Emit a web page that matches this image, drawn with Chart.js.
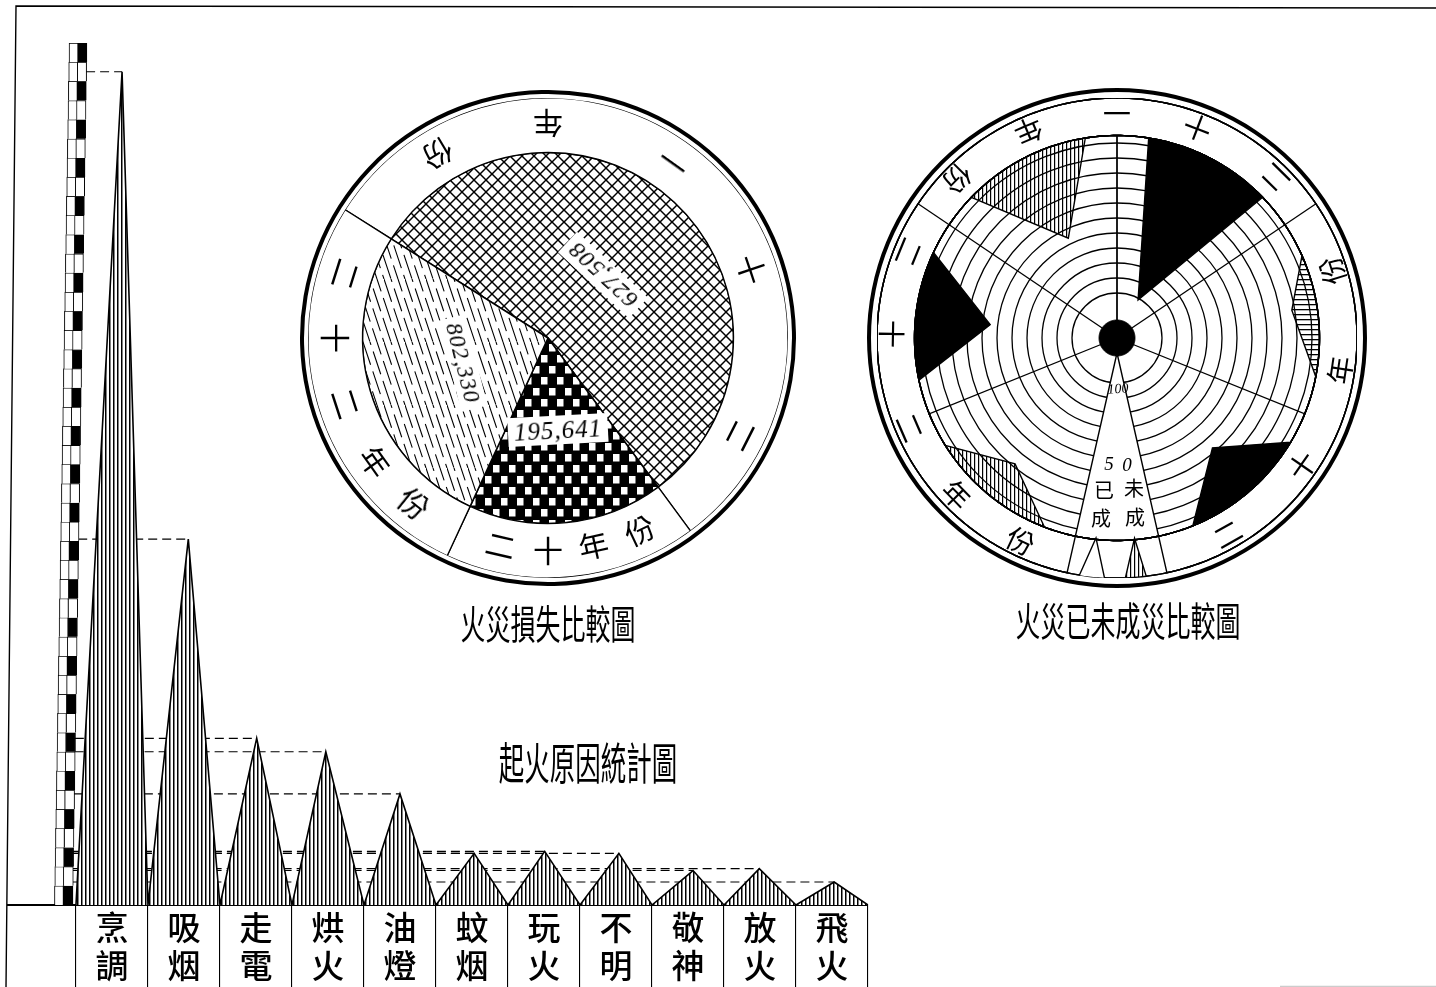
<!DOCTYPE html>
<html>
<head>
<meta charset="utf-8">
<title>起火原因統計圖</title>
<script src="https://cdn.jsdelivr.net/npm/chart.js@4/dist/chart.umd.min.js"></script>
<style>
    html, body { margin: 0; padding: 0; background: #fff; }
    #page { position: relative; width: 1436px; height: 987px; overflow: hidden; background: #fff; }
    #page canvas { position: absolute; }
    .txt { position: absolute; white-space: nowrap; color: #000; line-height: 1; font-family: "Noto Sans CJK TC", sans-serif; }
    .num { font-family: "Liberation Serif", serif; font-style: italic; background: #fff; padding: 2px 6px; letter-spacing: 1px; }
    .mark { font-family: "Liberation Serif", serif; font-style: italic; }
</style>
</head>
<body>
<div id="page">
    <canvas id="causes" width="1436" height="987" style="left:0;top:0"></canvas>
    <canvas id="loss" width="496" height="496" style="left:300px;top:90px"></canvas>
    <canvas id="ring" width="500" height="500" style="left:867px;top:88px"></canvas>
    <canvas id="rate" width="480" height="480" style="left:877px;top:98px"></canvas>
</div>
<script>
// 起火原因統計圖
var causeLabels = [['烹','調'],['吸','烟'],['走','電'],['烘','火'],['油','燈'],['蚊','烟'],['玩','火'],['不','明'],['敬','神'],['放','火'],['飛','火']];
var causeValues = [435, 191, 87, 80, 58, 27, 28, 27, 18, 19, 12];
var peakOffsets = [0.14, 0.06, 0.01, -0.03, 0, 0.03, 0.01, 0.04, 0.07, -0.01, 0.03];
var rulerTicks  = [0,10,20,30,40,50,60,70,80,90,100,110,120,130,140,150,160,170,180,190,200,210,220,
                   230,240,250,260,270,280,290,300,310,320,330,340,350,360,370,380,390,400,410,420,430,440];

// 火災損失比較圖
var lossYears  = ['二十一年份', '二十年份', '二十二年份'];
var lossSpans  = [201.3, 61.3, 97.5];   // 圖上量得之扇形角度
var lossTexts  = ['627,508', '195,641', '802,330'];

// 火災已未成災比較圖
var wedgeYears  = ['二十一年已成', '二十一年未成', '二十年已成', '二十年未成', '二十二年已成', '二十二年未成'];
var wedgeValues = [61, 106, 17, 38, 27, 50];
var wedgeStart  = [314, 9, 66, 121, 201, 258];
var wedgeApex   = [334, 29, 81, 139, 219, 276];
var wedgeEnd    = [351, 46, 101, 158, 238, 295];
var spokeAngles = [0, 56, 112, 248, 304];

var FONT = '"Noto Sans CJK TC", sans-serif';

function makePattern(w, h, draw) {
    var c = document.createElement('canvas');
    c.width = w;
    c.height = h;
    draw(c.getContext('2d'));
    return c.getContext('2d').createPattern(c, 'repeat');
}

var patVertical = makePattern(4, 4, function (g) {
    g.fillStyle = '#fff'; g.fillRect(0, 0, 4, 4);
    g.fillStyle = '#000'; g.fillRect(1, 0, 1.5, 4);
});
var patCross = makePattern(12, 12, function (g) {
    g.fillStyle = '#fff'; g.fillRect(0, 0, 12, 12);
    g.strokeStyle = '#000'; g.lineWidth = 1.5;
    [[-12,12,12,-12],[0,12,12,0],[0,24,24,0],[-12,0,12,24],[0,0,12,12],[0,-12,24,12]].forEach(function (l) {
        g.beginPath(); g.moveTo(l[0], l[1]); g.lineTo(l[2], l[3]); g.stroke();
    });
});
var patChecker = makePattern(16, 22, function (g) {
    g.fillStyle = '#000'; g.fillRect(0, 0, 16, 22);
    g.fillStyle = '#fff'; g.fillRect(1, 1, 6.5, 7.5); g.fillRect(9, 12, 6.5, 7.5);
});
var patDashes = makePattern(21, 63, function (g) {
    g.fillStyle = '#fff'; g.fillRect(0, 0, 21, 63);
    g.strokeStyle = '#000'; g.lineWidth = 1.1; g.setLineDash([24, 7]);
    for (var x = -21; x < 21; x += 7) {
        g.lineDashOffset = x * 3;
        g.beginPath(); g.moveTo(x, 0); g.lineTo(x + 21, 63); g.stroke();
    }
});
var hatchVertical = makePattern(4, 4, function (g) {
    g.fillStyle = '#000'; g.fillRect(1, 0, 1.2, 4);
});
var hatchHorizontal = makePattern(5, 5, function (g) {
    g.fillStyle = '#000'; g.fillRect(0, 1, 5, 1.3);
});

function putText(text, x, y, size, rot, extra) {
    var s = document.createElement('span');
    s.className = 'txt' + (extra && extra.cls ? ' ' + extra.cls : '');
    s.textContent = text;
    s.style.left = x + 'px';
    s.style.top = y + 'px';
    s.style.fontSize = size + 'px';
    s.style.transform = 'translate(-50%,-50%) rotate(' + rot + 'deg) scale(1,' + (extra && extra.sy || 1) + ')';
    document.getElementById('page').appendChild(s);
}

function putRing(cx, cy, r, size, text, angles) {
    text.split('').forEach(function (ch, i) {
        var a = angles[i] * Math.PI / 180;
        putText(ch, cx + r * Math.sin(a), cy - r * Math.cos(a), size, angles[i] - 180);
    });
}

// 左下方三角統計圖 ------------------------------------------------------------
var framePlugin = {
    id: 'frame',
    beforeDraw: function (chart) {
        var g = chart.ctx;
        g.save();
        g.strokeStyle = '#000';
        g.lineWidth = 1.4;
        g.beginPath();
        g.moveTo(1436, 8); g.lineTo(16, 6); g.lineTo(6, 987);
        g.stroke();
        g.strokeStyle = '#ccc';
        g.beginPath(); g.moveTo(1280, 986.5); g.lineTo(1436, 986.5); g.stroke();
        g.restore();
    }
};

var trianglePoints = [];
causeValues.forEach(function (v, i) {
    trianglePoints.push({x: i - 0.5, y: 0});
    trianglePoints.push({x: i + peakOffsets[i], y: v});
});
trianglePoints.push({x: causeValues.length - 0.5, y: 0});

var causeSets = [{
    type: 'line',
    label: '起火原因',
    data: trianglePoints,
    fill: 'origin',
    backgroundColor: patVertical,
    borderColor: '#000',
    borderWidth: 1.6,
    pointRadius: 0,
    tension: 0,
    order: 2
}];

causeValues.forEach(function (v, i) {
    var cell = v / 10;
    causeSets.push({
        type: 'line',
        label: 'leader' + i,
        data: [{x: -0.555 + 0.0045 * cell, y: v}, {x: i + peakOffsets[i], y: v}],
        borderColor: '#000',
        borderWidth: 1.2,
        borderDash: [9, 5],
        pointRadius: 0,
        fill: false,
        order: 3
    });
});

causeSets.push({
    type: 'bar',
    label: 'rulerLeft',
    data: rulerTicks.map(function (t, i) { return {x: -0.736 + 0.0046 * i, y: [t, t + 10]}; }),
    backgroundColor: '#fff',
    borderColor: '#000',
    borderWidth: 1,
    barThickness: 9,
    grouped: false,
    order: 1
});
causeSets.push({
    type: 'bar',
    label: 'rulerRight',
    data: rulerTicks.map(function (t, i) { return {x: -0.611 + 0.0044 * i, y: [t, t + 10]}; }),
    backgroundColor: rulerTicks.map(function (t, i) { return i % 2 === 0 ? '#000' : '#fff'; }),
    borderColor: '#000',
    borderWidth: 1,
    barThickness: 10,
    grouped: false,
    order: 1
});

new Chart(document.getElementById('causes').getContext('2d'), {
    type: 'bar',
    data: {datasets: causeSets},
    plugins: [framePlugin],
    options: {
        responsive: false,
        animation: false,
        layout: {padding: {top: 43, left: 8, right: 568, bottom: 0}},
        plugins: {legend: {display: false}, tooltip: {enabled: false}},
        scales: {
            x: {
                type: 'linear',
                min: -1.444,
                max: 10.5,
                offset: false,
                afterBuildTicks: function (s) {
                    s.ticks = causeLabels.map(function (l, i) { return {value: i}; });
                },
                afterFit: function (s) { s.height = 82; },
                grid: {offset: true, drawOnChartArea: false, tickLength: 82, color: '#000', lineWidth: 1.1},
                border: {display: true, color: '#000', width: 2},
                ticks: {
                    autoSkip: false,
                    maxRotation: 0,
                    minRotation: 0,
                    padding: -78,
                    color: '#000',
                    font: {family: FONT, size: 33, weight: '500', lineHeight: 1.14},
                    callback: function (v) { return causeLabels[v]; }
                }
            },
            y: {display: false, min: 0, max: 450}
        }
    }
});

// 火災損失比較圖 --------------------------------------------------------------
var lossFills = [patCross, patChecker, patDashes];
new Chart(document.getElementById('loss').getContext('2d'), {
    type: 'doughnut',
    data: {
        labels: lossYears,
        datasets: [
            {data: [1], weight: 4, backgroundColor: '#000', borderWidth: 0},
            {data: [1], weight: 4, backgroundColor: '#fff', borderWidth: 0},
            {data: lossSpans, weight: 54.5, backgroundColor: '#fff', borderColor: '#000', borderWidth: 1.3},
            {data: lossSpans, weight: 185.5, backgroundColor: lossFills, borderColor: '#000', borderWidth: 1.5}
        ]
    },
    options: {
        responsive: false,
        animation: false,
        cutout: 0,
        rotation: 302.3,
        plugins: {legend: {display: false}, tooltip: {enabled: false}}
    }
});

putRing(548, 338, 213, 30, '二十一年份', [116.8, 71.4, 35.5, 0, -31]);
putRing(548, 338, 211, 30, '二十年份', [193, 180, 167.6, 154.6]);
putRing(548, 338, 211, 30, '二十二年份', [287.5, 270, 252, 234.5, 218.9]);
putText(lossTexts[0], 603, 275, 24, 223, {cls: 'num'});
putText(lossTexts[1], 558, 430, 25, -3, {cls: 'num'});
putText(lossTexts[2], 463, 363, 23, 76, {cls: 'num'});

// 火災已未成災比較圖 ----------------------------------------------------------
var RIM = -25;
var GRID_EDGE = 0;

function wedgeSeries(start, apex, end, value, base) {
    var out = [];
    for (var i = 0; i < 360; i++) {
        if (i === apex) { out.push(value); }
        else if (i > start && i < end) { out.push(null); }
        else { out.push(base); }
    }
    return out;
}

function notchSeries(angles) {
    var out = [];
    for (var i = 0; i < 360; i++) { out.push(RIM); }
    angles.forEach(function (a) {
        out[(a + 359) % 360] = GRID_EDGE;
        out[a] = GRID_EDGE;
        out[(a + 1) % 360] = GRID_EDGE;
    });
    return out;
}

function wedgeSet(label, data, base, color, order) {
    return {
        label: label,
        data: data,
        fill: {value: base},
        backgroundColor: color,
        borderColor: '#000',
        borderWidth: 1.4,
        pointRadius: 0,
        spanGaps: true,
        order: order
    };
}

var wedgeColors = [hatchVertical, '#000', hatchHorizontal, '#000', hatchVertical, '#000'];
var rateSets = wedgeValues.map(function (v, i) {
    return wedgeSet(wedgeYears[i], wedgeSeries(wedgeStart[i], wedgeApex[i], wedgeEnd[i], v, GRID_EDGE), GRID_EDGE, wedgeColors[i], 2);
});
rateSets.push(wedgeSet('legendWedge', wedgeSeries(168, 180, 192, 125, RIM), RIM, '#fff', 3));
rateSets.push(wedgeSet('legendDone', wedgeSeries(183, 186, 189, 1, RIM), RIM, '#fff', 1));
rateSets.push(wedgeSet('legendOpen', wedgeSeries(173, 175, 178, 1, RIM), RIM, hatchVertical, 1));
rateSets.push({
    label: 'rim',
    data: notchSeries([0, 112, 248]),
    fill: {value: RIM},
    backgroundColor: '#fff',
    borderWidth: 0,
    pointRadius: 0,
    order: 5
});
rateSets.push({
    label: 'hub',
    data: new Array(360).fill(123),
    fill: 'shape',
    backgroundColor: '#000',
    borderColor: '#000',
    borderWidth: 1,
    pointRadius: 0,
    order: 0
});

var degreeLabels = [];
for (var d = 0; d < 360; d++) { degreeLabels.push(String(d)); }

new Chart(document.getElementById('ring').getContext('2d'), {
    type: 'doughnut',
    data: {
        labels: ['rim'],
        datasets: [
            {data: [1], weight: 4, backgroundColor: '#000', borderWidth: 0},
            {data: [1], weight: 6, backgroundColor: '#fff', borderWidth: 0},
            {data: [1], weight: 240, backgroundColor: '#fff', borderColor: '#000', borderWidth: 1.3}
        ]
    },
    options: {
        responsive: false,
        animation: false,
        cutout: 0,
        plugins: {legend: {display: false}, tooltip: {enabled: false}}
    }
});

new Chart(document.getElementById('rate').getContext('2d'), {
    type: 'radar',
    data: {labels: degreeLabels, datasets: rateSets},
    options: {
        responsive: false,
        animation: false,
        plugins: {legend: {display: false}, tooltip: {enabled: false}},
        scales: {
            r: {
                reverse: true,
                min: RIM,
                max: 135,
                startAngle: 0,
                ticks: {display: false, stepSize: 10},
                pointLabels: {display: false},
                grid: {
                    circular: true,
                    color: '#000',
                    lineWidth: function (c) { return c.tick.value >= 0 && c.tick.value <= 110 ? 1.3 : 0; }
                },
                angleLines: {
                    display: true,
                    color: '#000',
                    lineWidth: function (c) { return spokeAngles.indexOf(c.index) >= 0 ? 1.3 : 0; }
                }
            }
        }
    }
});

putRing(1117, 338, 224, 28, '二十一年份', [44.6, 21, 0, -23.2, -45.3]);
putRing(1117, 338, 224, 28, '二十年份', [150.5, 124.6, 98.3, 72.5]);
putRing(1117, 338, 224, 28, '二十二年份', [292.3, 271, 246.6, 225.7, 205.4]);
putText('100', 1118, 389, 14, -4, {cls: 'mark'});
putText('5', 1109, 463, 19, 0, {cls: 'mark'});
putText('0', 1127, 464, 19, 0, {cls: 'mark'});
putText('已', 1104, 490, 20, 0);
putText('成', 1101, 518, 20, 0);
putText('未', 1134, 488, 20, 0);
putText('成', 1135, 517, 20, 0);

// 標題
putText('火災損失比較圖', 548, 622, 25, 0, {sy: 1.6});
putText('火災已未成災比較圖', 1128, 619, 25, 0, {sy: 1.6});
putText('起火原因統計圖', 588, 760, 25.5, 0, {sy: 1.75});
</script>
</body>
</html>
